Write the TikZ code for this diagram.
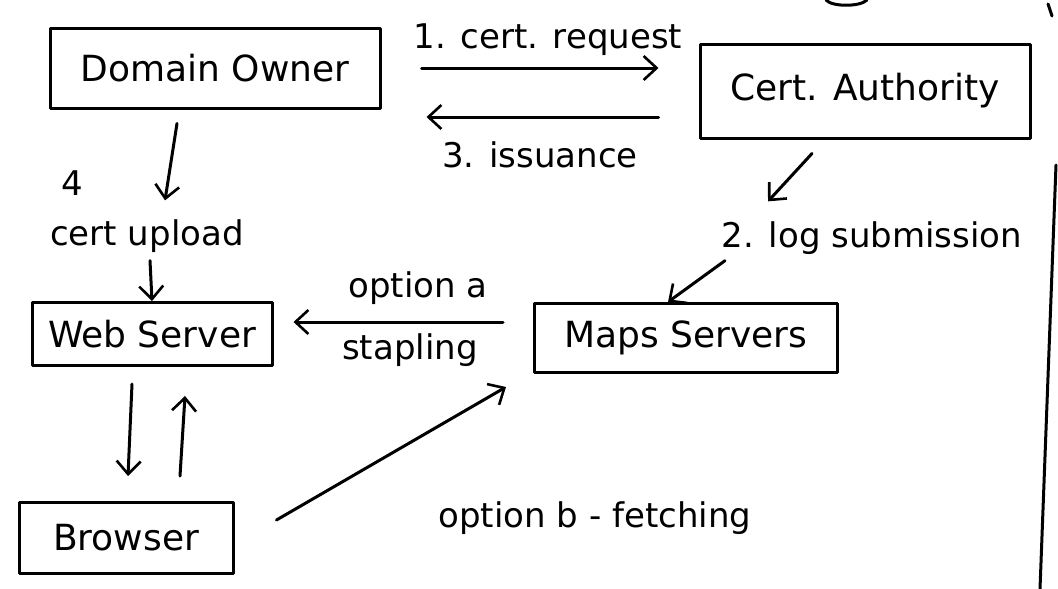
\documentclass[tikz,border=0pt]{standalone}
\usepackage{fontspec}
\setmainfont{DejaVu Sans}
\usetikzlibrary{arrows.meta}
\tikzset{
  ink/.style={line width=3pt, line cap=round, line join=round},
  box/.style={ink, draw, rectangle, inner sep=0pt, font=\fontsize{36}{42}\selectfont},
  lbl/.style={inner sep=0pt, font=\fontsize{34}{40}\selectfont},
  arr/.style={ink, -{Straight Barb[length=13pt,width=24pt,line width=2.6pt]}},
}
\begin{document}
\begin{tikzpicture}[x=1pt,y=1pt]
\useasboundingbox (0,0) rectangle (1058,-589);
\fill[white] (0,0) rectangle (1058,-589);

% boxes
\node[box, minimum width=330pt, minimum height=80pt] (do) at (215,-68) {Domain Owner};
\node[box, minimum width=330pt, minimum height=94pt] (ca) at (865,-91) {Cert. Authority};
\node[box, minimum width=240pt, minimum height=63pt] (ws) at (152,-334) {Web Server};
\node[box, minimum width=303pt, minimum height=69pt] (ms) at (686,-338) {Maps Servers};
\node[box, minimum width=214pt, minimum height=71pt] (br) at (126,-538) {Browser};

% labels
\node[lbl] (l1) at (548,-40) {1. cert. request};
\node[lbl] (l3) at (540,-155) {3. issuance};
\node[lbl] (l4) at (72,-183) {4};
\node[lbl] (up) at (147,-236) {cert upload};
\node[lbl] (l2) at (872,-238) {2. log submission};
\node[lbl] (oa) at (418,-288) {option a};
\node[lbl] (st) at (410,-350) {stapling};
\node[lbl] (ob) at (595,-518) {option b - fetching};

% connectors
\draw[arr] ([xshift=40pt]do.east) -- ([xshift=-40pt,yshift=23pt]ca.west);
\draw[arr] ([xshift=-40pt,yshift=-26pt]ca.west) -- ([xshift=45pt,yshift=-49pt]do.east);
\draw[arr] ([xshift=-38pt,yshift=-14pt]do.south) -- ([xshift=18pt,yshift=19pt]up.north);
\draw[arr] ([xshift=3pt,yshift=-8pt]up.south) -- (ws.north);
\draw[arr] ([xshift=-53pt,yshift=-14pt]ca.south) -- ([xshift=-104pt,yshift=20pt]l2.north);
\draw[arr] ([xshift=-147pt,yshift=-6pt]l2.south) -- ([xshift=-18pt]ms.north);
\draw[arr] ([xshift=-30pt,yshift=16pt]ms.west) -- ([xshift=20pt,yshift=12pt]ws.east);
\draw[arr] ([xshift=-20pt,yshift=-17pt]ws.south) -- ([xshift=2pt,yshift=25pt]br.north);
\draw[arr] ([xshift=54pt,yshift=25pt]br.north) -- ([xshift=33pt,yshift=-29pt]ws.south);
\draw[arr] ([xshift=42pt,yshift=18pt]br.east) -- ([xshift=-27pt,yshift=-13pt]ms.south west);

% page edge marks
\draw[ink] (1056,-165) -- (1040,-589);
\draw[ink] (1048,-4) -- (1052,-16);
\draw[ink] (826,0) .. controls (832,-7) and (860,-7) .. (867,0);
\end{tikzpicture}
\end{document}
